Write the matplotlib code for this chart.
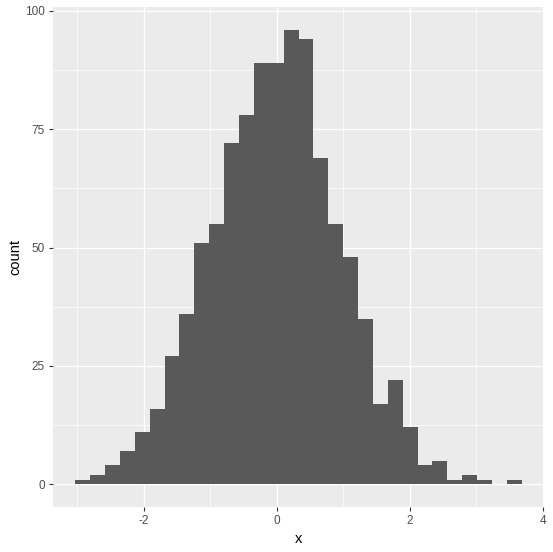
import numpy as np
import matplotlib
matplotlib.use("Agg")
import matplotlib.pyplot as plt

# histogram of x, 30 bins (counts)
counts = [1, 2, 4, 7, 11, 16, 27, 36, 51, 55,
          72, 78, 89, 89, 96, 94, 69, 55, 48, 35,
          17, 22, 12, 4, 5, 1, 2, 1, 0, 1]
x_lo = -3.03
x_hi = 3.685
x_ticks = [-2, 0, 2, 4]
y_ticks = [0, 25, 50, 75, 100]

edges = np.linspace(x_lo, x_hi, len(counts) + 1)
width = edges[1] - edges[0]

plt.rcParams['font.family'] = ['Liberation Sans', 'DejaVu Sans']
plt.rcParams['axes.unicode_minus'] = False

fig = plt.figure(figsize=(5.53, 5.52), dpi=100)
ax = fig.add_axes([53/553, 1 - 507/552, (544 - 53)/553, (507 - 7)/552])
ax.set_facecolor('#EBEBEB')

ax.bar(edges[:-1], counts, width=width, align='edge', color='#595959', linewidth=0, zorder=3)

# ggplot style expansion
span = x_hi - x_lo
ax.set_xlim(x_lo - 0.05*span, x_hi + 0.05*span)
ymax = max(counts)
ax.set_ylim(-0.05*ymax, ymax*1.05)

ax.set_xticks(x_ticks)
ax.set_yticks(y_ticks)
ax.set_xticks([-3, -1, 1, 3], minor=True)
ax.set_yticks([12.5, 37.5, 62.5, 87.5], minor=True)
ax.grid(which='major', color='white', linewidth=1.0, zorder=1)
ax.grid(which='minor', color='white', linewidth=0.5, zorder=1)
ax.set_axisbelow(True)

for s in ax.spines.values():
    s.set_visible(False)

ax.tick_params(which='major', length=3, width=0.8, color='#333333',
               labelsize=8.5, labelcolor='#4D4D4D', pad=3)
ax.tick_params(which='minor', length=0)

ax.set_xlabel('x', fontsize=10.5, color='black')
ax.set_ylabel('count', fontsize=10.5, color='black')
ax.yaxis.set_label_coords(-0.063, 0.5)
ax.xaxis.set_label_coords(0.5, -0.05)

fig.savefig('out.png', dpi=100, facecolor='white')
